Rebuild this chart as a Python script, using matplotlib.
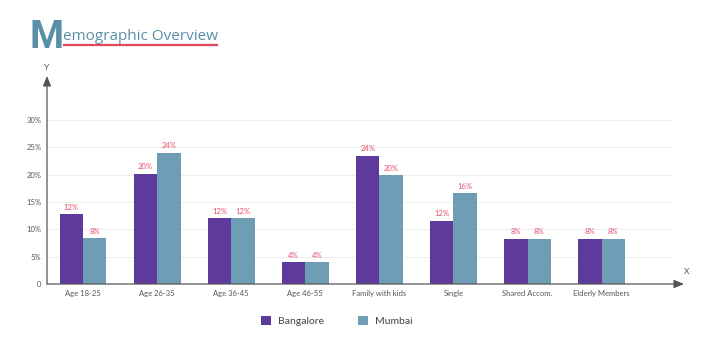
import matplotlib.pyplot as plt
import numpy as np

# data
categories = ['Age 18-25', 'Age 26-35', 'Age 36-45', 'Age 46-55',
              'Family with kids', 'Single', 'Shared Accom.', 'Elderly Members']
bangalore = [12.8, 20.2, 12.0, 4.0, 23.5, 11.6, 8.3, 8.3]
mumbai = [8.4, 24.0, 12.0, 4.0, 19.9, 16.6, 8.3, 8.3]
bangalore_lbl = ['12%', '20%', '12%', '4%', '24%', '12%', '8%', '8%']
mumbai_lbl = ['8%', '24%', '12%', '4%', '20%', '16%', '8%', '8%']
yticks = [0, 5, 10, 15, 20, 25, 30]
ytick_labels = ['0', '5%', '10%', '15%', '20%', '25%', '30%']

purple = '#5e3a9c'
blue = '#6f9db6'
red = '#e5506a'
grey = '#555555'

W, H = 721, 342
fig = plt.figure(figsize=(W / 100, H / 100), dpi=100)
plt.rcParams['font.family'] = ['Lato', 'DejaVu Sans']

# axes placed in pixel terms: left 47, right 672, zero at y=284, 30% at y=120
ax = fig.add_axes([47 / W, (H - 284) / H, (672 - 47) / W, (284 - 120) / H])
ax.set_xlim(-0.486, 7.95)
ax.set_ylim(0, 30)

x = np.arange(len(categories))
bw = 0.317
b1 = ax.bar(x - bw / 2, bangalore, bw, color=purple, label='Bangalore', zorder=3)
b2 = ax.bar(x + bw / 2, mumbai, bw, color=blue, label='Mumbai', zorder=3)

for bars, lbls in ((b1, bangalore_lbl), (b2, mumbai_lbl)):
    for bar, t in zip(bars, lbls):
        ax.annotate(t, (bar.get_x() + bar.get_width() / 2, bar.get_height()),
                    xytext=(0, 2.5), textcoords='offset points',
                    ha='center', va='bottom', fontsize=5.5, color=red)

ax.set_yticks(yticks)
ax.set_yticklabels(ytick_labels, fontsize=5.5, color=grey)
ax.set_xticks(x)
ax.set_xticklabels(categories, fontsize=5.5, color=grey)
ax.tick_params(length=0, pad=4)
ax.grid(axis='y', color='#eeeeee', linewidth=0.8, zorder=0)
for s in ax.spines.values():
    s.set_visible(False)

# axis arrows
ax.annotate('', xy=(0, (284 - 76) / 164), xytext=(0, 0), xycoords='axes fraction',
            arrowprops=dict(arrowstyle='-|>,head_width=0.25,head_length=0.6',
                            color='#555555', lw=0.9, shrinkA=0, shrinkB=0))
ax.annotate('', xy=((684 - 47) / 625, 0), xytext=(0, 0), xycoords='axes fraction',
            arrowprops=dict(arrowstyle='-|>,head_width=0.25,head_length=0.6',
                            color='#555555', lw=0.9, shrinkA=0, shrinkB=0))
fig.text(47 / W, 1 - 67 / H, 'Y', fontsize=6, color=grey, ha='center', va='center')
fig.text(687 / W, 1 - 271 / H, 'X', fontsize=6, color=grey, ha='center', va='center')

# title
fig.text(30 / W, 1 - 48 / H, 'M', fontsize=28, color='#5a8fa8', fontweight='bold',
         family=['Liberation Sans Narrow', 'Roboto'], ha='left', va='baseline')
fig.text(63 / W, 1 - 40 / H, 'emographic Overview', fontsize=11, color='#5a8fa8',
         family='Open Sans', ha='left', va='baseline')
fig.add_artist(plt.Line2D([64 / W, 217 / W], [1 - 45 / H, 1 - 45 / H],
                          color='#e0475f', lw=1.6))

fig.legend(handles=[b1, b2], loc='center', bbox_to_anchor=(337 / W, 1 - 321 / H),
           ncol=2, frameon=False, fontsize=7.5, handlelength=0.9, handleheight=0.9,
           columnspacing=3.3, handletextpad=0.7, labelcolor='#444444')

fig.savefig('out.png', dpi=100)
